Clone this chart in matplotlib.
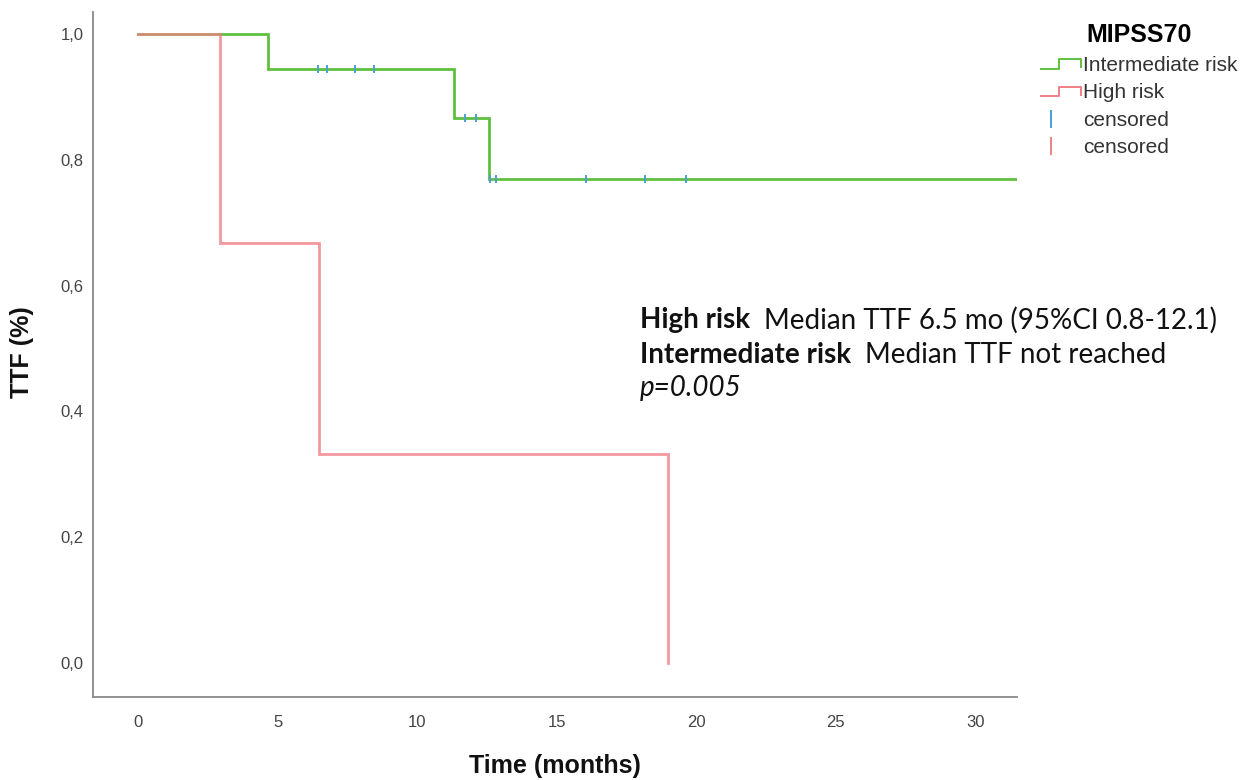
import numpy as np
import matplotlib
matplotlib.use("Agg")
import matplotlib.pyplot as plt
from matplotlib.lines import Line2D
from matplotlib.legend_handler import HandlerBase

# ---- data ----
inter_times = [0.0, 4.66, 11.33, 12.58]
inter_surv = [1.0, 0.944, 0.866, 0.770]
inter_end = 32.0
inter_censor = [6.45, 6.77, 7.77, 8.46, 11.72, 12.11, 12.62, 12.83, 16.06, 18.17, 19.64]

high_times = [0.0, 2.94, 6.49, 19.0]
high_surv = [1.0, 0.667, 0.333, 0.0]

x_ticks = [0, 5, 10, 15, 20, 25, 30]
y_ticks = [0.0, 0.2, 0.4, 0.6, 0.8, 1.0]
y_ticklabels = ["0,0", "0,2", "0,4", "0,6", "0,8", "1,0"]

GREEN = "#5fc03f"
RED = "#f07f86"
BLUE = "#4a9fd8"

plt.rcParams["font.family"] = ["Liberation Sans", "DejaVu Sans"]

W, H = 1255, 780
fig = plt.figure(figsize=(W / 100, H / 100), dpi=100)
ax = fig.add_axes([93 / W, 1 - 697 / H, (1017 - 93) / W, (697 - 12) / H])

def surv_at(times, surv, t):
    idx = np.searchsorted(times, t, side="right") - 1
    return np.array(surv)[idx]

# intermediate risk
ax.step(inter_times + [inter_end], inter_surv + [inter_surv[-1]], where="post",
        color=GREEN, lw=2.0, solid_joinstyle="miter", zorder=2)
ax.plot(inter_censor, surv_at(inter_times, inter_surv, inter_censor), ls="none",
        marker="|", ms=5.5, mew=1.4, color=BLUE, zorder=4)
# high risk
ax.step(high_times, high_surv, where="post", color=RED, lw=2.0, alpha=0.8,
        solid_joinstyle="miter", zorder=3)

ax.set_xlim(-1.62, 31.5)
ax.set_ylim(-0.054, 1.035)
ax.set_xticks(x_ticks)
ax.set_yticks(y_ticks)
ax.set_yticklabels(y_ticklabels)
ax.tick_params(length=0, labelsize=12, colors="#444444")
ax.tick_params(axis="y", pad=7)
ax.tick_params(axis="x", pad=13)
for s in ["top", "right"]:
    ax.spines[s].set_visible(False)
for s in ["left", "bottom"]:
    ax.spines[s].set_color("#888888")
    ax.spines[s].set_linewidth(1.3)

fig.text(555 / W, 1 - 766 / H, "Time (months)", ha="center", va="center",
         fontsize=18, fontweight="bold", color="#111111")
fig.text(22 / W, 1 - 352 / H, "TTF (%)", ha="center", va="center", rotation=90,
         fontsize=18, fontweight="bold", color="#111111")

# legend with step-shaped handles
class StepHandler(HandlerBase):
    def create_artists(self, legend, orig_handle, xdescent, ydescent, width, height, fontsize, trans):
        xs = [0, 0.45 * width, 0.45 * width, width, width]
        ys = [0.15 * height, 0.15 * height, 0.8 * height, 0.8 * height, 0.25 * height]
        ln = Line2D(xs, ys, color=orig_handle.get_color(), lw=1.4)
        ln.set_transform(trans)
        return [ln]

class TickHandler(HandlerBase):
    def create_artists(self, legend, orig_handle, xdescent, ydescent, width, height, fontsize, trans):
        ln = Line2D([0.25 * width, 0.25 * width], [-0.1 * height, 1.0 * height],
                    color=orig_handle.get_color(), lw=1.4)
        ln.set_transform(trans)
        return [ln]

class CensorLine(Line2D):
    pass

h1 = Line2D([], [], color=GREEN)
h2 = Line2D([], [], color=RED)
h3 = CensorLine([], [], color=BLUE)
h4 = CensorLine([], [], color=RED)
leg = fig.legend([h1, h2, h3, h4], ["Intermediate risk", "High risk", "censored", "censored"],
                 handler_map={Line2D: StepHandler(), CensorLine: TickHandler()},
                 loc="upper left", bbox_to_anchor=(1028 / W, 1 - 11 / H),
                 frameon=False, fontsize=15, title="MIPSS70",
                 title_fontproperties={"weight": "bold", "size": 18},
                 handlelength=1.95, handletextpad=0.1, labelspacing=0.4, borderpad=0.1)
for t in leg.get_texts():
    t.set_color("#333333")

# annotation
ann_font = ["Lato", "DejaVu Sans"]
fs = 20
fig.canvas.draw()
renderer = fig.canvas.get_renderer()

def two_part(y_px, bold, rest, gap_px=14):
    t = fig.text(640 / W, 1 - y_px / H, bold, fontsize=fs, fontweight="bold",
                 family=ann_font, va="center", color="#111111")
    bb = t.get_window_extent(renderer)
    fig.text((bb.x1 + gap_px) / W, 1 - y_px / H, rest, fontsize=fs,
             family=ann_font, va="center", color="#111111")

two_part(320, "High risk", "Median TTF 6.5 mo (95%CI 0.8-12.1)")
two_part(355, "Intermediate risk", "Median TTF not reached")
fig.text(640 / W, 1 - 388 / H, "p=0.005", fontsize=fs, style="italic",
         family=ann_font, va="center", color="#111111")

fig.savefig("out.png", dpi=100)
